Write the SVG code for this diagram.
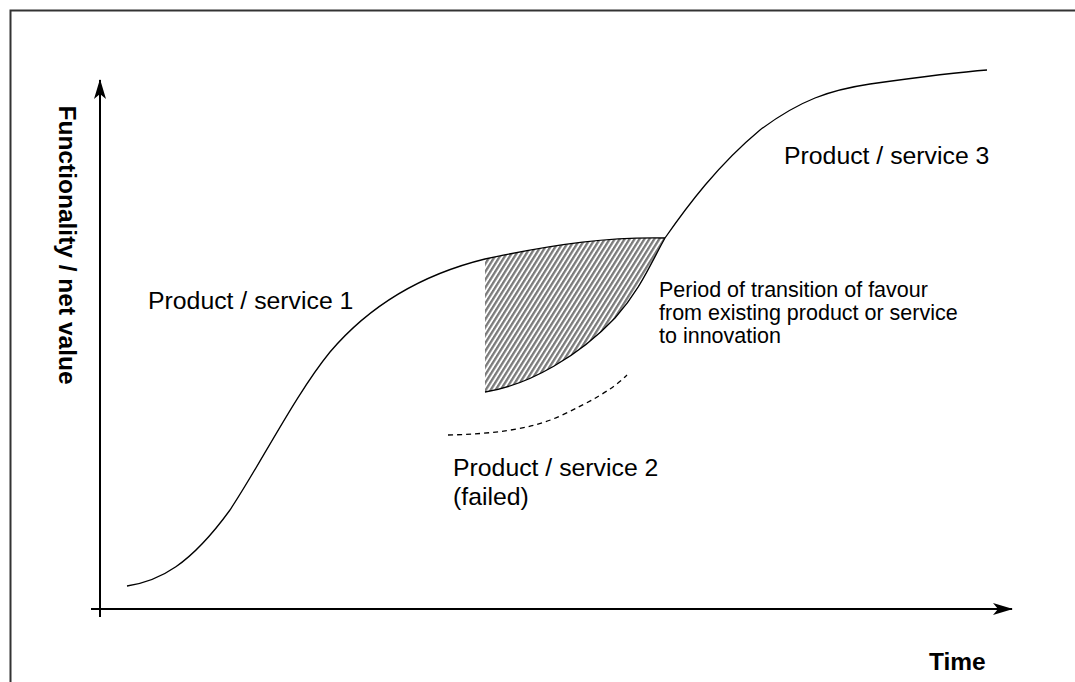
<svg xmlns="http://www.w3.org/2000/svg" width="1075" height="682" viewBox="0 0 1075 682">
<style>
.lbl{font-family:"Liberation Sans",Arial,sans-serif;font-size:24.8px;fill:#000}
.sm{font-family:"Liberation Sans",Arial,sans-serif;font-size:21.5px;fill:#000}
.ax{font-family:"Liberation Sans",Arial,sans-serif;font-size:24.5px;font-weight:bold;fill:#000}
.curve{fill:none;stroke:#000;stroke-width:1.3}
.axis{fill:none;stroke:#000;stroke-width:2}
</style>
<defs>
<pattern id="hatch" patternUnits="userSpaceOnUse" width="4.2" height="4.2" patternTransform="rotate(32)">
<rect width="4.2" height="4.2" fill="#fff"/>
<rect width="2.3" height="4.2" fill="#7a7a7a"/>
</pattern>
<marker id="arr" viewBox="0 0 20 12" refX="19" refY="6" markerWidth="20" markerHeight="12" markerUnits="userSpaceOnUse" orient="auto">
<path d="M0,0 L20,6 L0,12 L5,6 Z" fill="#000"/>
</marker>
</defs>
<rect x="0" y="0" width="1075" height="682" fill="#fff"/>
<rect x="10.5" y="10.5" width="1090" height="700" fill="none" stroke="#333" stroke-width="2"/>
<g id="hatched-region">
<path d="M485,259 C560,243 610,237 665,238 C650,265 640,290 615,318 C580,355 530,385 485,392 Z" fill="url(#hatch)"/>
</g>
<g id="connectors">
<line id="y-axis" class="axis" x1="100" y1="617" x2="100" y2="80" marker-end="url(#arr)"/>
<line id="x-axis" class="axis" x1="91" y1="609" x2="1012" y2="609" marker-end="url(#arr)"/>
<path id="curve1" class="curve" d="M127,586 C160,581 190,565 230,510 C260,465 295,395 330,352 C370,305 420,275 485,259 C560,243 610,237 665,238"/>
<path id="curve3" class="curve" d="M485,392 C530,385 580,355 615,318 C640,290 650,265 665,238 C688,205 718,165 760,130 C800,100 830,90 870,84 C920,77 960,72 987,70"/>
<path id="curve2" class="curve" stroke-dasharray="5,4" d="M448,435 C490,434 530,430 560,416 C590,402 612,390 627,375"/>
</g>
<g id="label-y"><text class="ax" text-anchor="middle" transform="translate(59,245) rotate(90)">Functionality / net value</text></g>
<g id="label-x"><text class="ax" x="929" y="670">Time</text></g>
<g id="label-p1"><text class="lbl" x="148" y="309">Product / service 1</text></g>
<g id="label-p3"><text class="lbl" x="784" y="164">Product / service 3</text></g>
<g id="label-p2"><text class="lbl" x="453" y="476">Product / service 2</text><text class="lbl" x="453" y="505">(failed)</text></g>
<g id="label-transition"><text class="sm" x="659" y="297">Period of transition of favour</text><text class="sm" x="659" y="320">from existing product or service</text><text class="sm" x="659" y="343">to innovation</text></g>
</svg>
